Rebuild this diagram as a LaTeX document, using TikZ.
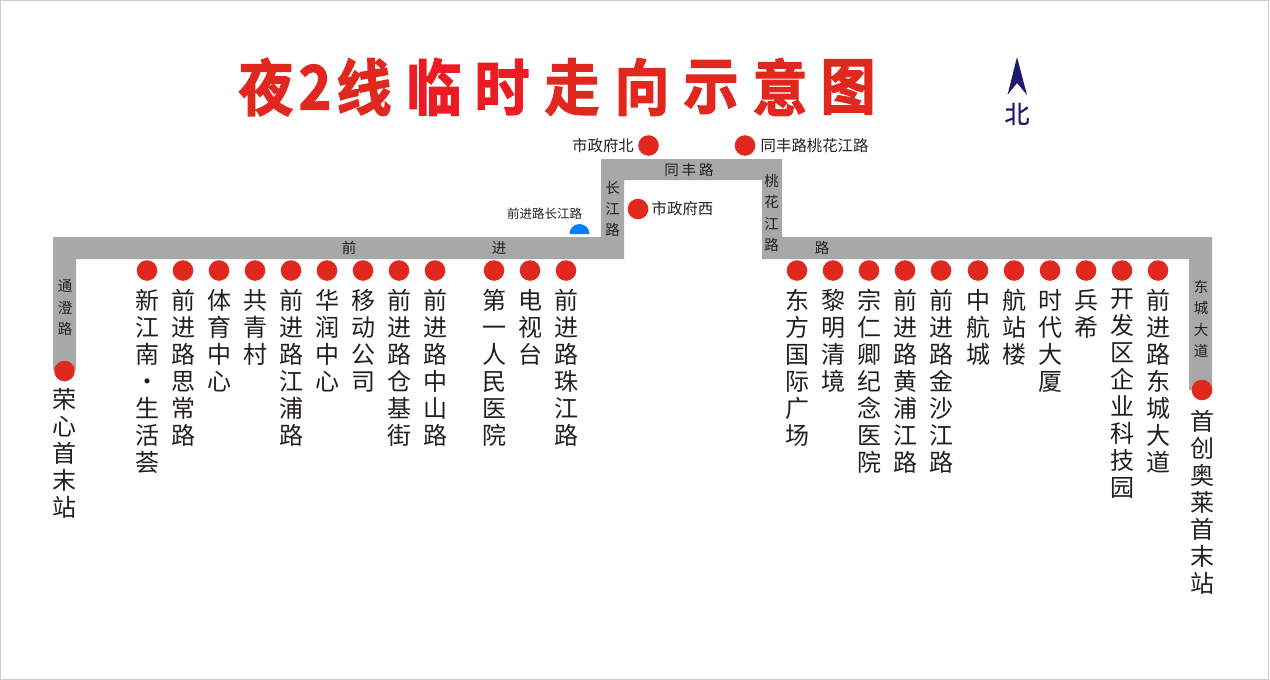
\documentclass[tikz,border=0pt]{standalone}
\usepackage{fontspec}
\setmainfont{Noto Sans CJK SC}
\newfontfamily\titlefont{Noto Sans CJK SC Bold}[FakeBold=2.2,FakeStretch=0.9]
\newfontfamily\northfont{Noto Sans CJK SC}[FakeBold=0.6]
\usetikzlibrary{positioning}
\definecolor{roadgray}{HTML}{A8A8A8}
\definecolor{stopred}{HTML}{E0281E}
\definecolor{titlered}{HTML}{E0281E}
\definecolor{titlebright}{HTML}{ED1C24}
\definecolor{northblue}{HTML}{1F1A6E}
\definecolor{txtblack}{HTML}{231F20}
\definecolor{tempblue}{HTML}{0080FF}
\tikzset{
  stop/.style={circle,fill=stopred,minimum size=20.6pt,inner sep=0pt},
  stoplabel/.style={align=center,inner sep=0pt,text=txtblack,font=\fontsize{24}{27}\selectfont},
  sidelabel/.style={inner sep=0pt,text=txtblack,font=\fontsize{15.4}{18}\selectfont},
  roadlabel/.style={align=center,inner sep=0pt,text=txtblack,font=\fontsize{14.5}{21.3}\selectfont},
  titlechar/.style={inner sep=0pt,font=\titlefont\fontsize{61}{61}\selectfont}
}
\begin{document}
\begin{tikzpicture}[x=1pt,y=-1pt]
\useasboundingbox (0,0) rectangle (1270,680);
\draw[black!20] (0.5,0.5) rectangle (1268.5,679.5);
% road
\fill[roadgray] (53,370) -- (53,237) -- (601,237) -- (601,159) -- (782,159) -- (782,237)
  -- (1212,237) -- (1212,390) -- (1189,390) -- (1189,259) -- (762,259) -- (762,180)
  -- (624,180) -- (624,259) -- (76,259) -- (76,370) -- cycle;
% title
\foreach \x/\c/\col in {266/夜/titlered,315/2/titlered,364/线/titlered,434/临/titlebright,502/时/titlebright,
    572/走/titlered,642/向/titlered,711/示/titlered,780/意/titlered,848/图/titlered}
  \node[titlechar,text=\col] (title\x) at (\x,87) {\c};
% north
\fill[northblue] (1017,57) -- (1027,95) -- (1017,83) -- (1007.5,95) -- cycle;
\node[inner sep=0pt,text=northblue,font=\northfont\fontsize{25}{25}\selectfont] (north) at (1017,114) {北};
% road names
\foreach \x/\y/\t/\n in {349/248/前/a,499/248/进/b,822/248/路/c,
    65/308/通\\澄\\路/d,612.5/209/长\\江\\路/e,771.5/213/桃\\花\\江\\路/f,1201/319/东\\城\\大\\道/g}
  \node[roadlabel] (road\n) at (\x,\y) {\t};
\node[roadlabel] (roadh) at (689,170) {同\hspace{3pt}丰\hspace{3pt}路};
% stops below the road
\foreach \x/\t in {147/新\\江\\南\\·\\生\\活\\荟,183/前\\进\\路\\思\\常\\路,219/体\\育\\中\\心,255/共\\青\\村,
    291/前\\进\\路\\江\\浦\\路,327/华\\润\\中\\心,363/移\\动\\公\\司,399/前\\进\\路\\仓\\基\\街,
    435/前\\进\\路\\中\\山\\路,494/第\\一\\人\\民\\医\\院,530/电\\视\\台,566/前\\进\\路\\珠\\江\\路,
    797/东\\方\\国\\际\\广\\场,833/黎\\明\\清\\境,869/宗\\仁\\卿\\纪\\念\\医\\院,905/前\\进\\路\\黄\\浦\\江\\路,
    941/前\\进\\路\\金\\沙\\江\\路,978/中\\航\\城,1014/航\\站\\楼,1050/时\\代\\大\\厦,1086/兵\\希,
    1122/开\\发\\区\\企\\业\\科\\技\\园,1158/前\\进\\路\\东\\城\\大\\道}{
  \node[stop] (stop\x) at (\x,270.5) {};
  \node[stoplabel,below=8pt of stop\x] (lab\x) {\t};
}
% terminals
\node[stop] (stopw) at (64.5,371) {};
\node[stoplabel,below=7pt of stopw] (labw) {荣\\心\\首\\末\\站};
\node[stop] (stope) at (1202,390) {};
\node[stoplabel,below=10pt of stope] (labe) {首\\创\\奥\\莱\\首\\末\\站};
% stops above the road
\node[stop] (stopn) at (648.5,145.5) {};
\node[sidelabel,left=4pt of stopn] (labn) {市政府北};
\node[stop] (stopt) at (745,145.5) {};
\node[sidelabel,right=5pt of stopt] (labt) {同丰路桃花江路};
\node[stop] (stopx) at (638,209) {};
\node[sidelabel,right=3pt of stopx] (labx) {市政府西};
% temporary stop
\fill[tempblue] (569.5,234) arc[start angle=180,end angle=360,radius=10] -- cycle;
\node[inner sep=0pt,text=txtblack,font=\fontsize{12.5}{15}\selectfont] (labtemp) at (544.5,214) {前进路长江路};
\end{tikzpicture}
\end{document}
